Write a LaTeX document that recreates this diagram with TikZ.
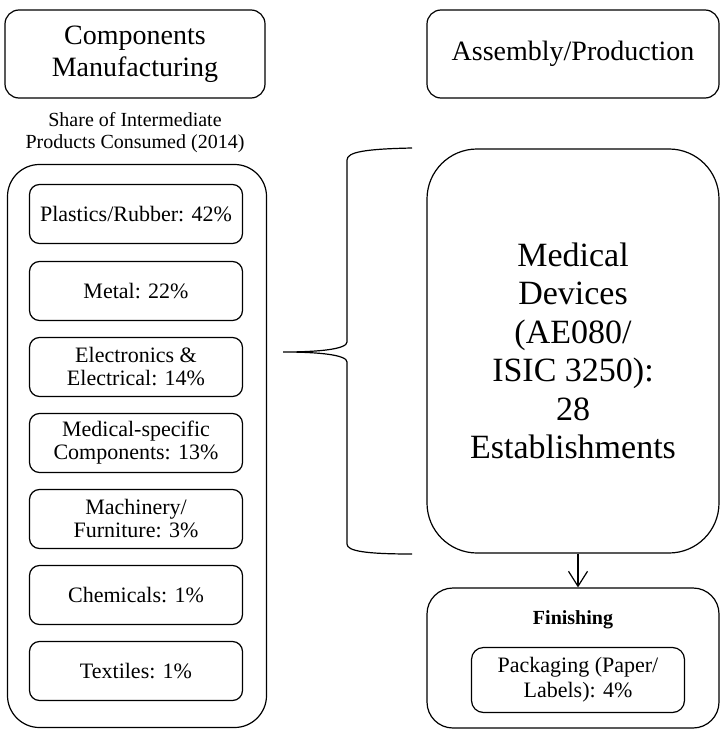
\documentclass[tikz,border=0pt]{standalone}
\usepackage{fontspec}
\setmainfont{Liberation Serif}
\usetikzlibrary{arrows.meta}
\begin{document}
\begin{tikzpicture}[x=1pt,y=-1pt,
  box/.style={draw, line width=1.2pt, rounded corners=14pt, align=center, inner sep=0pt},
  topbox/.style={box, minimum height=88pt, font=\fontsize{28}{32}\selectfont},
  itembox/.style={box, rounded corners=10pt, minimum width=213pt, minimum height=59pt, font=\fontsize{22}{23}\selectfont},
  plain/.style={align=center, inner sep=0pt},
  link/.style={line width=1.2pt}]
\useasboundingbox (0,0) rectangle (720,730);
\node[topbox, minimum width=260pt] (comp) at (135,54) {Components\\Manufacturing};
\node[topbox, minimum width=292pt] (asm) at (573,54) {Assembly/Production};
\node[plain, font=\fontsize{20}{22}\selectfont] (share) at (135,133) {Share of Intermediate\\Products Consumed (2014)};
\node[box, rounded corners=32pt, minimum width=259pt, minimum height=563pt] (outer) at (137,446) {};
\node[itembox] (i1) at (136,214) {Plastics/Rubber: 42\%};
\node[itembox] (i2) at (136,291) {Metal: 22\%};
\node[itembox] (i3) at (136,367) {Electronics \&\\Electrical: 14\%};
\node[itembox] (i4) at (136,443) {Medical-specific\\Components: 13\%};
\node[itembox] (i5) at (136,519) {Machinery/\\Furniture: 3\%};
\node[itembox] (i6) at (136,595) {Chemicals: 1\%};
\node[itembox] (i7) at (136,671) {Textiles: 1\%};
\node[box, rounded corners=50pt, minimum width=292pt, minimum height=404pt, font=\fontsize{34}{38.5}\selectfont] (med) at (573,351) {Medical\\Devices\\(AE080/\\ISIC 3250):\\28\\Establishments};
\node[box, rounded corners=26pt, minimum width=292pt, minimum height=140pt] (fin) at (573,658) {};
\node[plain, font=\fontsize{20}{24}\selectfont\bfseries] (fint) at (573,620) {Finishing};
\node[box, rounded corners=12pt, minimum width=213pt, minimum height=65pt, font=\fontsize{22}{25}\selectfont] (pack) at (578,680) {Packaging (Paper/\\Labels): 4\%};
\draw[link] (412,148) .. controls (365,149) and (347,152) .. (347,160) -- (347,342) .. controls (347,349) and (320,352) .. (283,352) .. controls (320,352) and (347,355) .. (347,362) -- (347,544) .. controls (347,551) and (365,554) .. (412,554);
\draw[link, -{Straight Barb[length=15pt,width=19pt]}] (pack.north |- med.south) -- (pack.north |- fin.north);
\end{tikzpicture}
\end{document}
